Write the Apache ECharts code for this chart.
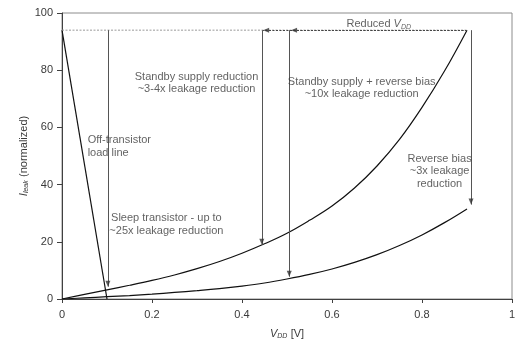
<!DOCTYPE html>
<html>
<head>
<meta charset="utf-8">
<script src="https://cdn.jsdelivr.net/npm/echarts@6/dist/echarts.min.js"></script>
<style>
html,body{margin:0;padding:0;background:#fff;}
#c{width:516px;height:339px;}
</style>
</head>
<body>
<div id="c"></div>
<script>
// ---- data ----
const vdd = [0, 0.05, 0.1, 0.15, 0.2, 0.25, 0.3, 0.35, 0.4, 0.45, 0.5, 0.55, 0.6, 0.65, 0.7, 0.75, 0.8, 0.85, 0.9];
const leakNominal = [0, 1.6, 3.2, 4.8, 6.5, 8.4, 10.6, 13.1, 16, 19.3, 23, 27.5, 32.5, 38.8, 46.5, 55.8, 67, 79.7, 94];
const leakReverseBias = [0, 0.4, 0.8, 1.2, 1.7, 2.3, 2.9, 3.6, 4.5, 5.6, 7.0, 8.6, 10.5, 12.8, 15.5, 18.7, 22.4, 26.7, 31.5];

const loadLineV = [0, 0.1];
const loadLineI = [94, 0];

const topLevel = 94;              // normalized leakage at nominal VDD
const dottedLineV = [0, 0.9];
const arrowV = [0.102, 0.444, 0.505, 0.909];
const arrowTipI = [4.3, 19, 7.8, 33];
const reducedArrowFromV = 0.9;
const reducedArrowToV = [0.447, 0.509];

const xTicks = [0, 0.2, 0.4, 0.6, 0.8, 1];
const yTicks = [0, 20, 40, 60, 80, 100];

const noteText = [
  'Standby supply reduction\n~3-4x leakage reduction',
  'Off-transistor\nload line',
  'Standby supply + reverse bias\n~10x leakage reduction',
  'Reduced {v|V}{s|DD}',
  'Reverse bias\n~3x leakage\nreduction',
  'Sleep transistor - up to\n~25x leakage reduction'
];
const noteV = [0.299, 0.057, 0.666, 0.704, 0.839, 0.232];
const noteI = [75.5, 53.3, 73.7, 96.2, 44.6, 26];
const noteAlign = ['center', 'left', 'center', 'center', 'center', 'center'];

// ---- chart ----
const FONT = '"Liberation Sans", Arial, sans-serif';
const TXT = '#3a3a3a';
const chart = echarts.init(document.getElementById('c'), null, {renderer: 'canvas'});

const pair = (a, b) => a.map((v, i) => [v, b[i]]);

const arrowLines = arrowV.map((v, i) => [
  {coord: [v, topLevel]}, {coord: [v, arrowTipI[i]]}
]);
const reducedLines = reducedArrowToV.map(v => [
  {coord: [reducedArrowFromV, topLevel]}, {coord: [v, topLevel]}
]);

const richSub = {
  v: {fontStyle: 'italic', fontSize: 11, fontFamily: FONT, color: TXT},
  s: {fontStyle: 'italic', fontSize: 7, fontFamily: FONT, color: TXT, padding: [6, 0, 0, 0]}
};

chart.setOption({
  animation: false,
  grid: {left: 62, right: 4, top: 13, bottom: 40, show: true, borderColor: '#8c8c8c', borderWidth: 1,
         containLabel: false, outerBoundsMode: 'none'},
  xAxis: {
    type: 'value', min: 0, max: 1, interval: 0.2,
    name: '{v|V}{s|DD} {t|[V]}', nameLocation: 'middle', nameGap: 28, nameMoveOverlap: false,
    nameTextStyle: {rich: Object.assign({t: {fontSize: 11, fontFamily: FONT, color: TXT}}, richSub)},
    axisLine: {lineStyle: {color: '#404040', width: 1}},
    axisTick: {length: 4, lineStyle: {color: '#404040'}},
    axisLabel: {margin: 10, fontSize: 11, fontFamily: FONT, color: TXT,
      formatter: v => xTicks.includes(Math.round(v * 10) / 10) ? String(Math.round(v * 10) / 10) : ''},
    splitLine: {show: false}
  },
  yAxis: {
    type: 'value', min: 0, max: 100, interval: 20,
    name: '{v|I}{s|leak} {t|(normalized)}', nameLocation: 'middle', nameGap: 32, nameRotate: 90,
    nameMoveOverlap: false,
    nameTextStyle: {rich: Object.assign({t: {fontSize: 11, fontFamily: FONT, color: TXT}}, richSub)},
    axisLine: {show: true, lineStyle: {color: '#404040', width: 1}},
    axisTick: {show: true, length: 5, lineStyle: {color: '#404040'}},
    axisLabel: {margin: 9, fontSize: 11, fontFamily: FONT, color: TXT,
      formatter: v => yTicks.includes(v) ? String(v) : ''},
    splitLine: {show: false}
  },
  series: [
    {
      type: 'line', data: pair(vdd, leakNominal), smooth: 0.4, symbol: 'none',
      lineStyle: {color: '#111', width: 1.2}, silent: true
    },
    {
      type: 'line', data: pair(vdd, leakReverseBias), smooth: 0.4, symbol: 'none',
      lineStyle: {color: '#111', width: 1.2}, silent: true
    },
    {
      type: 'line', data: pair(loadLineV, loadLineI), symbol: 'none',
      lineStyle: {color: '#111', width: 1.2}, silent: true
    },
    {
      type: 'line', data: pair(dottedLineV, [topLevel, topLevel]), symbol: 'none',
      lineStyle: {color: '#9a9a9a', width: 1, type: [2, 1.5]}, silent: true
    },
    {
      type: 'line', data: [], silent: true,
      markLine: {
        silent: true, symbol: 'none',
        label: {show: false},
        lineStyle: {color: '#555', width: 1, type: 'solid'},
        data: arrowLines
      }
    },
    {
      type: 'line', data: [], silent: true,
      markLine: {
        silent: true, symbol: 'none',
        label: {show: false},
        lineStyle: {color: '#444', width: 1, type: [2, 1.5]},
        data: reducedLines
      }
    },
    {
      // downward arrowheads
      type: 'scatter', silent: true, z: 5,
      symbol: 'triangle', symbolSize: [5, 6], symbolRotate: 180, symbolOffset: [0, -3],
      itemStyle: {color: '#333'},
      data: pair(arrowV, arrowTipI)
    },
    {
      // leftward arrowheads
      type: 'scatter', silent: true, z: 5,
      symbol: 'triangle', symbolSize: [5, 6], symbolRotate: 90, symbolOffset: [3, 0],
      itemStyle: {color: '#333'},
      data: reducedArrowToV.map(v => [v, topLevel])
    },
    {
      type: 'scatter', symbolSize: 0, silent: true, z: 10,
      data: noteText.map((t, i) => ({
        value: [noteV[i], noteI[i]],
        label: {
          show: true, position: 'inside', formatter: t, align: noteAlign[i], verticalAlign: 'middle',
          fontSize: 11, fontFamily: FONT, color: TXT, lineHeight: 12.5, rich: richSub
        }
      }))
    }
  ]
});
</script>
</body>
</html>
